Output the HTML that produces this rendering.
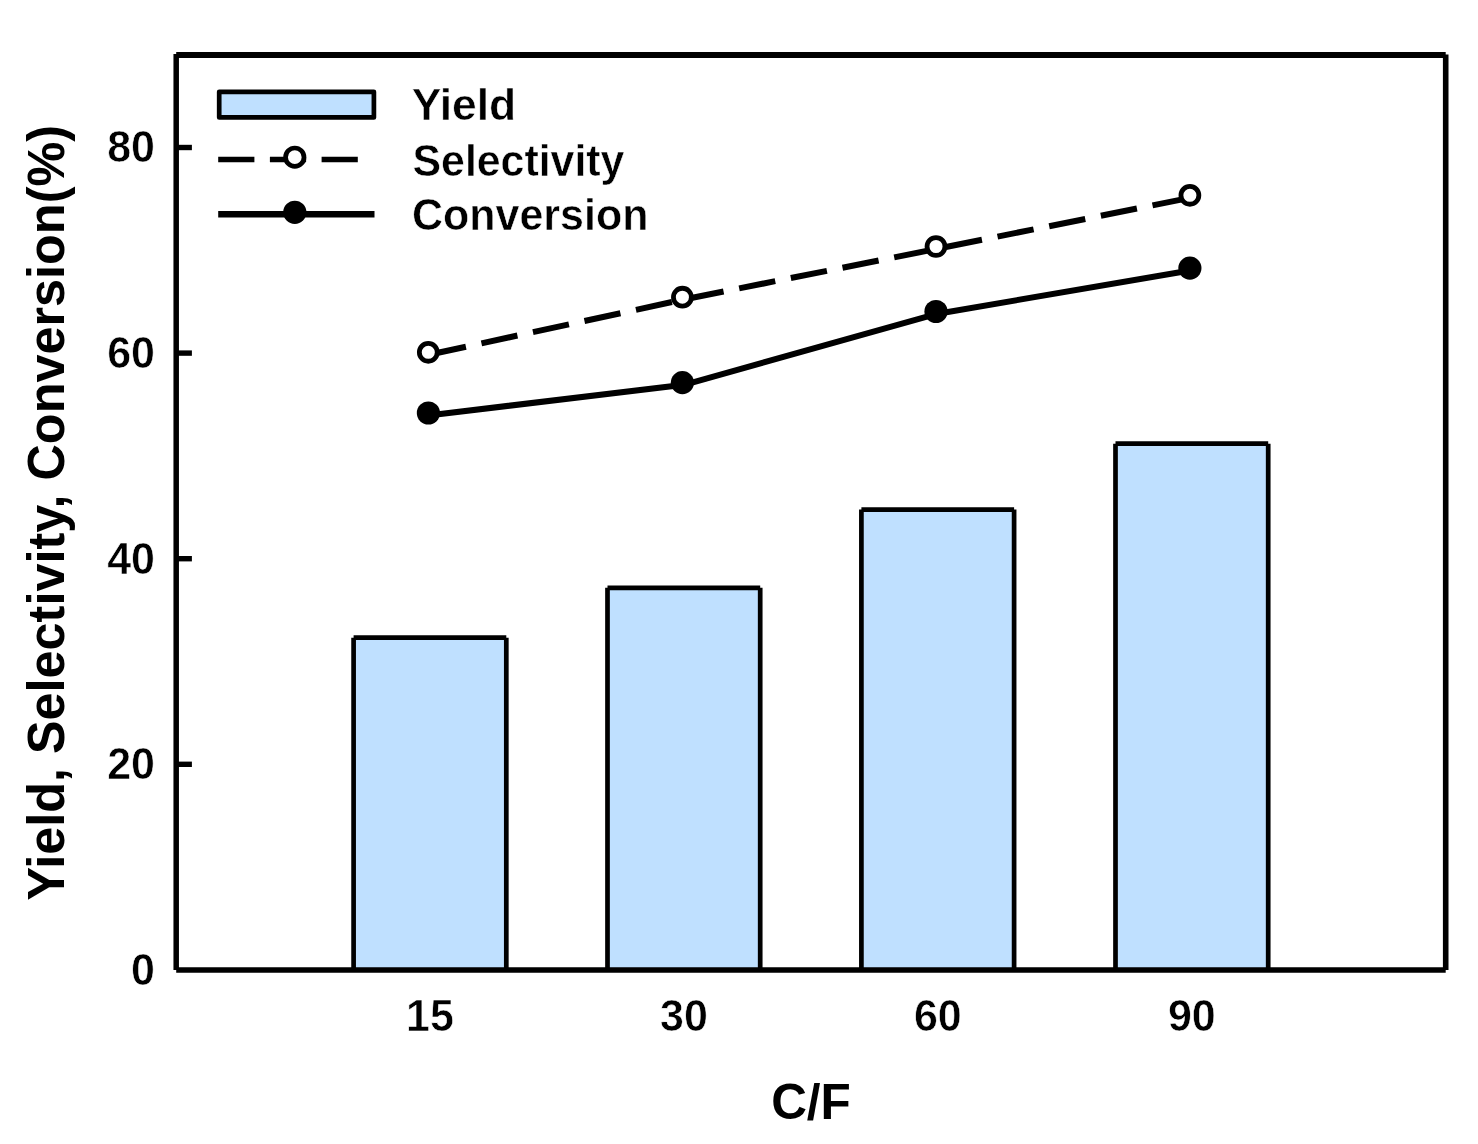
<!DOCTYPE html>
<html>
<head>
<meta charset="utf-8">
<title>Yield, Selectivity, Conversion vs C/F</title>
<style>
html,body{margin:0;padding:0;background:#fff;}
body{width:1478px;height:1144px;overflow:hidden;}
svg{display:block;}
text{font-family:"Liberation Sans",Arial,sans-serif;font-weight:bold;fill:#000;}
.thin{stroke:#fff;stroke-width:0.55px;}
.thin2{stroke:#fff;stroke-width:0.5px;}
</style>
</head>
<body>
<svg width="1478" height="1144" viewBox="0 0 1478 1144">
<rect x="0" y="0" width="1478" height="1144" fill="#fff"/>
<g fill="#bfe0ff">
<rect x="353.60" y="637.7" width="152.7" height="332.20"/>
<rect x="607.50" y="587.8" width="152.7" height="382.10"/>
<rect x="861.40" y="509.6" width="152.7" height="460.30"/>
<rect x="1115.50" y="443.7" width="152.7" height="526.20"/>
</g>
<g fill="none" stroke="#000" stroke-width="4.7" stroke-linecap="butt">
<path d="M353.60,969.9 V637.7 M353.60,637.7 H506.30 M506.30,637.7 V969.9"/>
<path d="M607.50,969.9 V587.8 M607.50,587.8 H760.20 M760.20,587.8 V969.9"/>
<path d="M861.40,969.9 V509.6 M861.40,509.6 H1014.10 M1014.10,509.6 V969.9"/>
<path d="M1115.50,969.9 V443.7 M1115.50,443.7 H1268.20 M1268.20,443.7 V969.9"/>
</g>
<g stroke="#000" stroke-linecap="butt" fill="none">
<line x1="176.2" y1="55.05" x2="1445.7" y2="55.05" stroke-width="6.1"/>
<line x1="176.2" y1="54" x2="176.2" y2="969.9" stroke-width="5.5"/>
<line x1="176.2" y1="969.95" x2="1445.7" y2="969.95" stroke-width="5.5"/>
<line x1="1445.7" y1="54.5" x2="1445.7" y2="969.9" stroke-width="5.6"/>
<line x1="176.2" y1="764.30" x2="191.9" y2="764.30" stroke-width="5.4"/>
<line x1="176.2" y1="558.70" x2="191.9" y2="558.70" stroke-width="5.4"/>
<line x1="176.2" y1="353.10" x2="191.9" y2="353.10" stroke-width="5.4"/>
<line x1="176.2" y1="147.50" x2="191.9" y2="147.50" stroke-width="5.4"/>
</g>
<polyline points="429.95,354.50 684.05,299.40 937.65,248.70 1191.55,197.50" fill="none" stroke="#000" stroke-width="6" stroke-dasharray="36.8 15.9"/>
<polyline points="430.05,415.20 684.05,384.80 937.65,313.70 1191.55,270.30" fill="none" stroke="#000" stroke-width="6" stroke-linejoin="round"/>
<g fill="#fff" stroke="#000" stroke-width="4.8">
<circle cx="428.3" cy="352.3" r="8.95"/>
<circle cx="682.4" cy="297.2" r="8.95"/>
<circle cx="936" cy="246.5" r="8.95"/>
<circle cx="1189.9" cy="195.3" r="8.95"/>
</g>
<g fill="#000">
<circle cx="428.4" cy="413" r="11.6"/>
<circle cx="682.4" cy="382.6" r="11.6"/>
<circle cx="936" cy="311.5" r="11.6"/>
<circle cx="1189.9" cy="268.1" r="11.6"/>
</g>
<rect x="219.2" y="91.8" width="154.7" height="25.6" fill="#bfe0ff" stroke="#000" stroke-width="4.7" stroke-linejoin="round"/>
<line x1="218.2" y1="159.5" x2="358" y2="159.5" stroke="#000" stroke-width="5.6" stroke-dasharray="36.2 15.5"/>
<circle cx="294.8" cy="157.2" r="9.2" fill="#fff" stroke="#000" stroke-width="4.7"/>
<line x1="218.2" y1="214.3" x2="374.5" y2="214.3" stroke="#000" stroke-width="6.5"/>
<circle cx="294.8" cy="212.3" r="11.6" fill="#000"/>
<g font-size="43.5" class="thin2">
<text transform="translate(411.7,120.3) scale(1,1.025)" textLength="104.4" lengthAdjust="spacingAndGlyphs">Yield</text>
<text transform="translate(412.5,175.8) scale(1,1.025)" textLength="211.9" lengthAdjust="spacingAndGlyphs">Selectivity</text>
<text transform="translate(412,229.8) scale(1,1.025)" textLength="236.4" lengthAdjust="spacingAndGlyphs">Conversion</text>
</g>
<text transform="translate(155,984.8) scale(1,1.05)" font-size="43" text-anchor="end" class="thin">0</text>
<text transform="translate(155,779.2) scale(1,1.05)" font-size="43" text-anchor="end" class="thin">20</text>
<text transform="translate(155,573.6) scale(1,1.05)" font-size="43" text-anchor="end" class="thin">40</text>
<text transform="translate(155,368.0) scale(1,1.05)" font-size="43" text-anchor="end" class="thin">60</text>
<text transform="translate(155,162.4) scale(1,1.05)" font-size="43" text-anchor="end" class="thin">80</text>
<text transform="translate(429.9,1031) scale(1,1.05)" font-size="43" text-anchor="middle" class="thin">15</text>
<text transform="translate(683.9,1031) scale(1,1.05)" font-size="43" text-anchor="middle" class="thin">30</text>
<text transform="translate(937.8,1031) scale(1,1.05)" font-size="43" text-anchor="middle" class="thin">60</text>
<text transform="translate(1191.8,1031) scale(1,1.05)" font-size="43" text-anchor="middle" class="thin">90</text>
<text transform="translate(811,1118.5) scale(1,1.023)" font-size="49.5" text-anchor="middle">C/F</text>
<text transform="translate(64,512.8) rotate(-90) scale(1,1.023)" font-size="50.4" text-anchor="middle">Yield, Selectivity, Conversion(%)</text>
</svg>
</body>
</html>
